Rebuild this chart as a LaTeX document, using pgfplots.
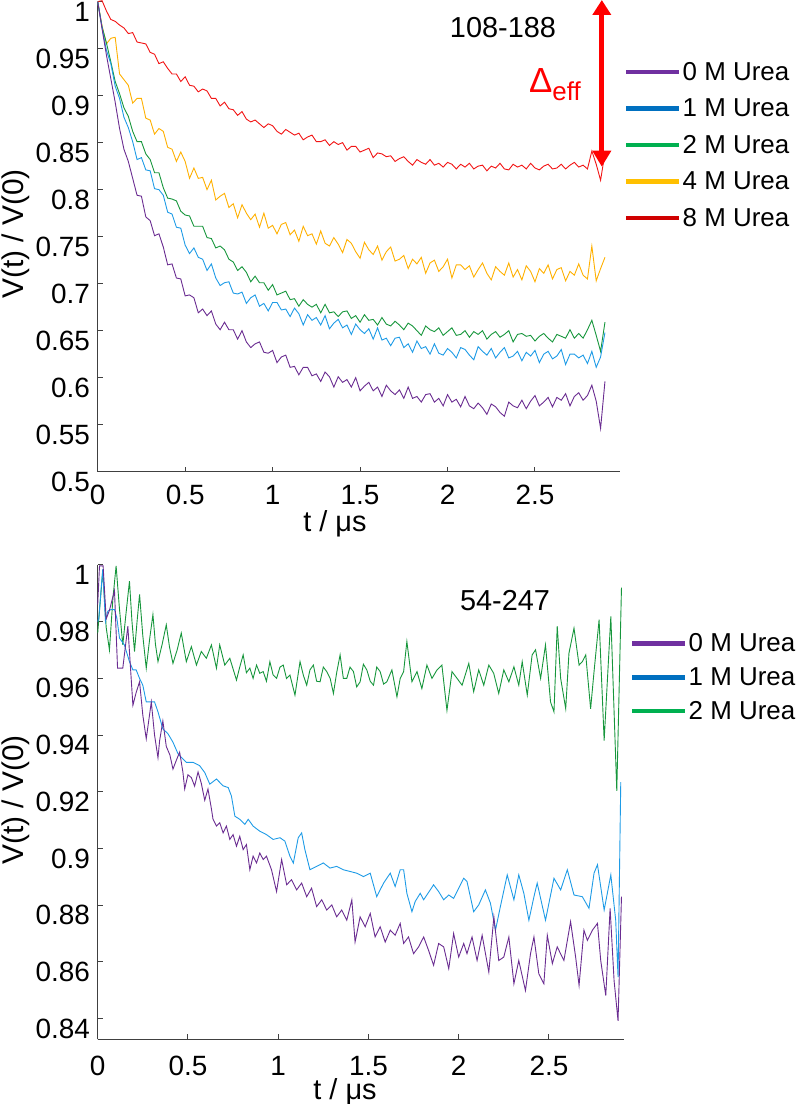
\documentclass[border=0pt]{standalone}
\usepackage{fontspec}
\setmainfont{Liberation Sans}
\usepackage{pgfplots}
\pgfplotsset{compat=1.18}
\usepackage{pgfplotstable}
\usetikzlibrary{arrows.meta}

\definecolor{LP}{HTML}{7030A0}
\definecolor{LB}{HTML}{0070C0}
\definecolor{LG}{HTML}{00B050}
\definecolor{LO}{HTML}{FFC000}
\definecolor{LR}{HTML}{D00000}
\definecolor{CP}{HTML}{6A2C91}
\definecolor{CB}{HTML}{1E9BE6}
\definecolor{CG}{HTML}{17963C}
\definecolor{CO}{HTML}{FFB000}
\definecolor{CR}{HTML}{F21414}
\definecolor{AX}{HTML}{404040}

\pgfplotstableread{
t P B G O R
0 1.000 1.000 1.000 1.000 1.000
0.025 0.971 0.972 0.973 0.974 1.001
0.05 0.943 0.948 0.956 0.955 0.990
0.075 0.918 0.934 0.936 0.961 0.981
0.1 0.893 0.910 0.915 0.962 0.979
0.125 0.865 0.897 0.902 0.923 0.975
0.15 0.843 0.877 0.887 0.917 0.972
0.175 0.830 0.866 0.878 0.911 0.966
0.2 0.812 0.851 0.862 0.892 0.967
0.225 0.794 0.832 0.851 0.897 0.957
0.25 0.793 0.834 0.851 0.897 0.956
0.275 0.771 0.821 0.838 0.876 0.955
0.3 0.767 0.820 0.832 0.874 0.946
0.325 0.751 0.801 0.818 0.859 0.944
0.35 0.753 0.800 0.818 0.865 0.934
0.375 0.739 0.794 0.802 0.862 0.936
0.4 0.720 0.776 0.791 0.845 0.929
0.425 0.721 0.774 0.790 0.843 0.923
0.45 0.706 0.760 0.788 0.830 0.923
0.475 0.705 0.759 0.777 0.840 0.915
0.5 0.687 0.741 0.773 0.830 0.920
0.525 0.688 0.732 0.772 0.812 0.911
0.55 0.685 0.738 0.761 0.823 0.910
0.575 0.669 0.728 0.761 0.812 0.904
0.6 0.673 0.726 0.761 0.813 0.907
0.625 0.666 0.714 0.749 0.800 0.905
0.65 0.671 0.721 0.748 0.810 0.897
0.675 0.657 0.706 0.738 0.789 0.897
0.7 0.651 0.698 0.740 0.793 0.889
0.725 0.659 0.701 0.736 0.796 0.893
0.75 0.651 0.702 0.726 0.781 0.886
0.775 0.651 0.690 0.723 0.785 0.885
0.8 0.641 0.689 0.714 0.770 0.879
0.825 0.650 0.691 0.718 0.784 0.883
0.85 0.638 0.679 0.712 0.775 0.875
0.875 0.632 0.685 0.702 0.768 0.872
0.9 0.636 0.688 0.708 0.774 0.874
0.925 0.638 0.676 0.701 0.760 0.870
0.95 0.627 0.679 0.701 0.775 0.866
0.975 0.626 0.671 0.693 0.759 0.870
1.0 0.629 0.680 0.699 0.762 0.868
1.025 0.616 0.680 0.688 0.753 0.862
1.05 0.622 0.672 0.690 0.763 0.859
1.075 0.624 0.673 0.692 0.765 0.864
1.1 0.611 0.665 0.683 0.752 0.861
1.125 0.612 0.674 0.684 0.757 0.858
1.15 0.603 0.668 0.676 0.745 0.860
1.175 0.611 0.656 0.683 0.761 0.853
1.2 0.611 0.667 0.678 0.751 0.856
1.225 0.602 0.661 0.675 0.753 0.858
1.25 0.604 0.664 0.678 0.742 0.851
1.275 0.596 0.656 0.669 0.756 0.851
1.3 0.606 0.666 0.678 0.743 0.853
1.325 0.601 0.652 0.669 0.740 0.847
1.35 0.590 0.658 0.670 0.749 0.851
1.375 0.601 0.662 0.665 0.742 0.848
1.4 0.595 0.653 0.670 0.733 0.850
1.425 0.598 0.656 0.671 0.747 0.842
1.45 0.590 0.646 0.663 0.743 0.846
1.475 0.600 0.657 0.666 0.734 0.846
1.5 0.586 0.651 0.659 0.727 0.840
1.525 0.591 0.647 0.667 0.744 0.842
1.55 0.595 0.652 0.661 0.736 0.844
1.575 0.586 0.641 0.662 0.731 0.834
1.6 0.590 0.653 0.656 0.740 0.839
1.625 0.580 0.640 0.664 0.725 0.838
1.65 0.592 0.642 0.657 0.734 0.835
1.675 0.586 0.634 0.655 0.739 0.836
1.7 0.582 0.642 0.660 0.724 0.830
1.725 0.587 0.643 0.656 0.726 0.833
1.75 0.578 0.632 0.651 0.730 0.835
1.775 0.590 0.636 0.658 0.716 0.830
1.8 0.578 0.627 0.655 0.726 0.826
1.825 0.580 0.639 0.650 0.721 0.832
1.85 0.574 0.631 0.645 0.728 0.829
1.875 0.582 0.633 0.655 0.711 0.827
1.9 0.583 0.625 0.651 0.722 0.832
1.925 0.574 0.636 0.649 0.725 0.826
1.95 0.578 0.626 0.653 0.713 0.828
1.975 0.570 0.624 0.645 0.718 0.824
2.0 0.582 0.631 0.649 0.726 0.829
2.025 0.574 0.627 0.653 0.706 0.827
2.05 0.577 0.621 0.645 0.720 0.822
2.075 0.569 0.632 0.646 0.720 0.827
2.1 0.580 0.630 0.650 0.715 0.824
2.125 0.570 0.624 0.643 0.719 0.828
2.15 0.567 0.619 0.649 0.707 0.822
2.175 0.573 0.633 0.646 0.715 0.825
2.2 0.568 0.628 0.650 0.722 0.826
2.225 0.561 0.624 0.641 0.711 0.820
2.25 0.572 0.631 0.646 0.704 0.825
2.275 0.569 0.621 0.649 0.718 0.823
2.3 0.563 0.627 0.643 0.713 0.828
2.325 0.559 0.632 0.646 0.709 0.822
2.35 0.574 0.621 0.650 0.722 0.821
2.375 0.570 0.623 0.638 0.707 0.827
2.4 0.568 0.628 0.646 0.715 0.824
2.425 0.576 0.618 0.647 0.704 0.826
2.45 0.567 0.627 0.644 0.719 0.822
2.475 0.575 0.623 0.645 0.713 0.828
2.5 0.581 0.629 0.639 0.702 0.823
2.525 0.570 0.616 0.644 0.716 0.821
2.55 0.574 0.625 0.647 0.711 0.825
2.575 0.579 0.628 0.642 0.720 0.827
2.6 0.569 0.620 0.638 0.705 0.822
2.625 0.579 0.623 0.646 0.715 0.823
2.65 0.576 0.630 0.644 0.717 0.827
2.675 0.583 0.614 0.642 0.703 0.822
2.7 0.570 0.625 0.651 0.713 0.826
2.725 0.580 0.625 0.642 0.709 0.829
2.75 0.584 0.621 0.647 0.721 0.824
2.775 0.576 0.624 0.642 0.709 0.826
2.8 0.581 0.615 0.651 0.705 0.822
2.825 0.592 0.628 0.661 0.740 0.841
2.85 0.575 0.611 0.645 0.703 0.827
2.875 0.546 0.622 0.628 0.716 0.810
2.9 0.596 0.648 0.659 0.728 0.839
}\toptable

\pgfplotstableread{
t v
0 0.986
0.01 0.9997
0.03 0.9997
0.047 0.981
0.065 0.984
0.093 0.991
0.11 0.9636
0.139 0.9636
0.167 0.9784
0.195 0.9505
0.213 0.955
0.232 0.9588
0.25 0.947
0.269 0.9387
0.297 0.9517
0.315 0.940
0.334 0.932
0.343 0.938
0.361 0.945
0.38 0.936
0.40 0.933
0.417 0.928
0.435 0.931
0.454 0.934
0.472 0.927
0.482 0.921
0.50 0.926
0.519 0.925
0.537 0.922
0.556 0.927
0.574 0.923
0.593 0.917
0.611 0.921
0.630 0.914
0.639 0.9103
0.658 0.9079
0.676 0.9091
0.695 0.9055
0.713 0.9079
0.732 0.9032
0.750 0.9049
0.769 0.9008
0.787 0.9043
0.806 0.8996
0.824 0.9014
0.843 0.8925
0.861 0.8973
0.880 0.8949
0.898 0.8984
0.917 0.8961
0.935 0.8973
0.963 0.8925
0.991 0.8848
1.019 0.8961
1.047 0.8872
1.074 0.8890
1.102 0.8854
1.130 0.8878
1.158 0.8830
1.185 0.8860
1.213 0.8795
1.241 0.8819
1.269 0.8783
1.297 0.8801
1.324 0.8759
1.352 0.8783
1.380 0.8747
1.408 0.8819
1.426 0.8670
1.454 0.8759
1.482 0.8724
1.510 0.8771
1.537 0.8688
1.565 0.8724
1.593 0.8670
1.621 0.8712
1.648 0.8694
1.676 0.8736
1.695 0.8665
1.722 0.8688
1.750 0.8629
1.778 0.8653
1.806 0.8688
1.833 0.8641
1.861 0.8588
1.889 0.8665
1.917 0.8653
1.945 0.8576
1.972 0.8700
2.000 0.8617
2.028 0.8665
2.046 0.8629
2.074 0.8688
2.102 0.8605
2.130 0.8694
2.167 0.8564
2.195 0.8759
2.222 0.8605
2.250 0.8617
2.278 0.8688
2.306 0.8523
2.333 0.8605
2.370 0.8499
2.398 0.8629
2.417 0.8688
2.444 0.8558
2.472 0.8523
2.491 0.8694
2.519 0.8594
2.546 0.8653
2.583 0.8605
2.620 0.8742
2.648 0.8617
2.667 0.8517
2.694 0.8712
2.713 0.8676
2.741 0.8712
2.769 0.8736
2.787 0.8605
2.815 0.8481
2.839 0.8789
2.861 0.8534
2.883 0.8392
2.902 0.8830
}\botP

\pgfplotstableread{
t v
0 0.980
0.006 0.9813
0.028 0.9985
0.043 0.9801
0.056 0.9837
0.074 0.9843
0.093 0.9843
0.106 0.9813
0.121 0.9742
0.148 0.9718
0.176 0.9659
0.195 0.9630
0.213 0.9630
0.232 0.9600
0.250 0.9576
0.269 0.9517
0.297 0.9517
0.315 0.9517
0.334 0.9482
0.361 0.9422
0.389 0.9405
0.417 0.9375
0.445 0.9334
0.463 0.9322
0.491 0.9304
0.528 0.9304
0.565 0.9292
0.593 0.9268
0.621 0.9227
0.658 0.9245
0.695 0.9221
0.723 0.9215
0.741 0.9185
0.760 0.9114
0.787 0.9103
0.815 0.9085
0.834 0.9103
0.861 0.9079
0.898 0.9061
0.935 0.9049
0.972 0.9032
1.010 0.9038
1.037 0.9026
1.065 0.8973
1.084 0.8949
1.111 0.9038
1.130 0.9055
1.148 0.8996
1.176 0.8925
1.213 0.8937
1.250 0.8949
1.287 0.8931
1.324 0.8937
1.361 0.8925
1.398 0.8919
1.435 0.8913
1.472 0.8901
1.510 0.8913
1.546 0.8830
1.584 0.8878
1.621 0.8913
1.648 0.8866
1.676 0.8925
1.695 0.8925
1.713 0.8842
1.741 0.8777
1.759 0.8813
1.787 0.8842
1.806 0.8819
1.861 0.8872
1.889 0.8848
1.917 0.8819
1.945 0.8836
1.972 0.8824
2.028 0.8895
2.046 0.8884
2.083 0.8777
2.111 0.8801
2.148 0.8854
2.176 0.8807
2.204 0.8712
2.231 0.8795
2.269 0.8907
2.306 0.8819
2.333 0.8907
2.361 0.8842
2.389 0.8747
2.417 0.8830
2.435 0.8878
2.481 0.8747
2.528 0.8895
2.565 0.8854
2.602 0.8925
2.639 0.8836
2.685 0.8830
2.722 0.8789
2.750 0.8913
2.769 0.8943
2.806 0.8783
2.843 0.8907
2.870 0.8747
2.883 0.8546
2.898 0.9234
}\botB

\pgfplotstableread{
t v
0 0.976
0.028 0.998
0.047 0.978
0.065 0.970
0.084 0.988
0.102 0.9997
0.12 0.985
0.139 0.9718
0.157 0.983
0.176 0.9943
0.19 0.980
0.204 0.9695
0.218 0.980
0.232 0.9896
0.25 0.975
0.269 0.9636
0.288 0.974
0.306 0.9825
0.32 0.972
0.334 0.9659
0.357 0.972
0.38 0.9789
0.398 0.971
0.417 0.9653
0.44 0.970
0.463 0.976
0.491 0.9659
0.519 0.9712
0.547 0.9647
0.574 0.9695
0.602 0.9671
0.630 0.9718
0.658 0.9636
0.676 0.9718
0.704 0.9647
0.732 0.9671
0.769 0.9594
0.787 0.9640
0.806 0.9683
0.824 0.9620
0.843 0.9636
0.861 0.9600
0.880 0.9647
0.898 0.9618
0.917 0.9624
0.935 0.9590
0.954 0.9659
0.972 0.9612
0.991 0.9600
1.010 0.9640
1.028 0.9647
1.046 0.9600
1.065 0.9612
1.093 0.9541
1.121 0.9659
1.140 0.9610
1.158 0.9576
1.176 0.9630
1.195 0.9647
1.213 0.9590
1.232 0.9588
1.250 0.9640
1.269 0.9624
1.288 0.9600
1.306 0.9547
1.324 0.9620
1.343 0.9683
1.361 0.9600
1.380 0.9600
1.398 0.9640
1.417 0.9624
1.435 0.9570
1.454 0.9588
1.472 0.9650
1.491 0.9630
1.510 0.9590
1.528 0.9576
1.546 0.9640
1.565 0.9624
1.584 0.9580
1.602 0.9588
1.630 0.9630
1.658 0.9535
1.676 0.9600
1.695 0.9624
1.713 0.9730
1.741 0.9588
1.769 0.9624
1.796 0.9564
1.824 0.9647
1.852 0.9600
1.880 0.9630
1.907 0.9647
1.935 0.9487
1.963 0.9624
1.991 0.9600
2.019 0.9576
2.056 0.9653
2.083 0.9553
2.111 0.9630
2.139 0.9576
2.167 0.9647
2.194 0.9618
2.222 0.9547
2.250 0.9630
2.278 0.9588
2.306 0.9641
2.333 0.9576
2.352 0.9659
2.380 0.9541
2.407 0.9683
2.426 0.9701
2.454 0.9600
2.481 0.9718
2.509 0.9517
2.528 0.9482
2.546 0.9784
2.565 0.9600
2.593 0.9493
2.611 0.9689
2.639 0.9777
2.667 0.9647
2.685 0.9659
2.704 0.9683
2.731 0.9493
2.750 0.9624
2.778 0.9807
2.806 0.9381
2.843 0.9819
2.876 0.9203
2.902 0.9920
}\botG

\pgfplotsset{
  myaxis/.style={
    scale only axis, clip=false, scaled ticks=false,
    axis x line*=bottom, axis y line*=left,
    axis line style={AX, line width=1.2bp, -},
    tick style={AX, line width=1bp},
    tick align=inside, major tick length=5bp,
    /pgf/number format/assume math mode=true,
    tick label style={font=\fontsize{28}{28}\selectfont, inner sep=0pt},
    yticklabel style={anchor=east, xshift=-7.7bp, yshift=-10bp},
    legend style={draw=none, fill=none, inner sep=0pt, outer sep=0pt,
      anchor=north west, font=\fontsize{26}{26}\selectfont,
      nodes={inner sep=0pt}, column sep=1.5bp},
    legend cell align=left,
    legend image code/.code={\draw[line width=4.5bp,##1] (0bp,0bp) -- (52.7bp,0bp);},
    every axis plot/.append style={line width=0.9bp},
    xlabel={t / μs}, ylabel={V(t) / V(0)},
    every axis x label/.append style={font=\fontsize{29}{29}\selectfont, inner sep=0pt, anchor=base},
    every axis y label/.append style={font=\fontsize{30}{30}\selectfont, anchor=center, inner sep=0pt},
  }
}

\begin{document}
\begin{tikzpicture}
\path[use as bounding box] (0,0) rectangle (798bp,1104bp);

\begin{axis}[myaxis,
  at={(97.7bp,632.3bp)}, anchor=south west,
  width=522.3bp, height=470.1bp,
  xmin=0, xmax=2.986, ymin=0.5, ymax=1,
  xtick={0,0.5,1,1.5,2,2.5},
  ytick={0.5,0.55,0.6,0.65,0.7,0.75,0.8,0.85,0.9,0.95,1},
  xticklabel style={anchor=base, yshift=-33.3bp},
  xlabel style={at={(axis description cs:0.4543,0)}, yshift=-59.5bp},
  ylabel style={at={(axis description cs:-0.157,0.5056)}},
  legend style={at={(axis description cs:1.0077,0.8709)}, row sep=17bp},
]
\addlegendimage{draw=LP}\addlegendentry{0 M Urea}
\addlegendimage{draw=LB}\addlegendentry{1 M Urea}
\addlegendimage{draw=LG}\addlegendentry{2 M Urea}
\addlegendimage{draw=LO}\addlegendentry{4 M Urea}
\addlegendimage{draw=LR}\addlegendentry{8 M Urea}
\addplot[CR, forget plot] table[x=t, y=R] {\toptable};
\addplot[CO, forget plot] table[x=t, y=O] {\toptable};
\addplot[CG, forget plot] table[x=t, y=G] {\toptable};
\addplot[CB, forget plot] table[x=t, y=B] {\toptable};
\addplot[CP, forget plot] table[x=t, y=P] {\toptable};
\draw[red, line width=5bp, {Triangle[width=18bp,length=15bp]}-{Triangle[width=18bp,length=16bp]}]
  (axis cs:2.882,1.0017) -- (axis cs:2.882,0.8244);
\node[inner sep=0pt, font=\fontsize{29}{29}\selectfont] at (axis cs:2.317,0.9719) {108-188};
\node[anchor=base west, inner sep=0pt, text=red, font=\fontsize{35}{35}\selectfont]
  at (axis cs:2.465,0.9035) {Δ\raisebox{-8bp}{\fontsize{26}{26}\selectfont eff}};
\end{axis}

\begin{axis}[myaxis,
  at={(97.7bp,64.7bp)}, anchor=south west,
  width=526.3bp, height=474.3bp,
  xmin=0, xmax=2.916, ymin=0.8327, ymax=1,
  xtick={0,0.5,1,1.5,2,2.5},
  ytick={0.84,0.86,0.88,0.9,0.92,0.94,0.96,0.98,1},
  xticklabel style={anchor=base, yshift=-35.7bp},
  xlabel style={at={(axis description cs:0.4699,0)}, yshift=-60.5bp},
  ylabel style={at={(axis description cs:-0.1555,0.5045)}},
  legend style={at={(axis description cs:1.0114,0.8547)}, row sep=14.2bp},
]
\addlegendimage{draw=LP}\addlegendentry{0 M Urea}
\addlegendimage{draw=LB}\addlegendentry{1 M Urea}
\addlegendimage{draw=LG}\addlegendentry{2 M Urea}
\addplot[CG, forget plot] table[x=t, y=v] {\botG};
\addplot[CB, forget plot] table[x=t, y=v] {\botB};
\addplot[CP, forget plot] table[x=t, y=v] {\botP};
\node[inner sep=0pt, font=\fontsize{29}{29}\selectfont] at (axis cs:2.257,0.9876) {54-247};
\end{axis}
\end{tikzpicture}
\end{document}
